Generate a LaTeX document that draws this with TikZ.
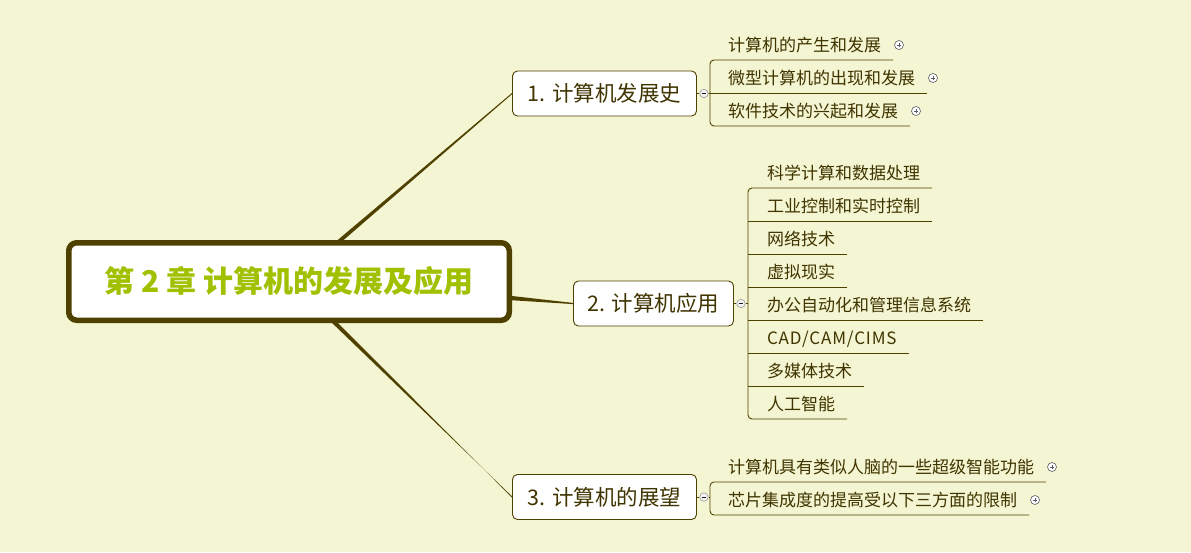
\documentclass[tikz,border=0pt]{standalone}
\usepackage{fontspec}
\newfontfamily\cjk{Noto Sans CJK SC}
\usetikzlibrary{calc,backgrounds}
\definecolor{bg}{RGB}{244,245,210}
\definecolor{olive}{RGB}{78,65,0}
\definecolor{txt}{RGB}{64,52,0}
\definecolor{cgreen}{RGB}{160,192,0}
\definecolor{mk}{RGB}{90,90,100}
\begin{document}
\begin{tikzpicture}[x=1pt,y=-1pt,
  central/.style={draw=olive, line width=5.5pt, rounded corners=8pt, fill=white,
    minimum width=440.5pt, minimum height=77.5pt, inner sep=0pt,
    font=\cjk\bfseries\fontsize{30}{36}\selectfont, text=cgreen},
  branch/.style={draw=olive, line width=0.9pt, rounded corners=5pt, fill=white,
    minimum height=45pt, inner sep=0pt, text height=18.5pt, text depth=2.5pt,
    font=\cjk\fontsize{21.5}{25}\selectfont, text=txt},
  leaf/.style={anchor=west, inner sep=0pt, outer sep=0pt, minimum height=30pt,
    text height=15pt, text depth=2pt, font=\cjk\fontsize{17}{20}\selectfont, text=txt},
  uline/.style={draw=olive, line width=0.9pt},
  minus/.style={circle, draw=gray!80, fill=white!90!gray, line width=0.6pt, minimum size=8.5pt, inner sep=0pt,
    path picture={\draw[gray!20!black, line width=0.6pt] ([xshift=-2.3pt]path picture bounding box.center) -- ([xshift=2.3pt]path picture bounding box.center);}},
  plus/.style={circle, draw=mk, fill=white, line width=0.6pt, minimum size=9pt, inner sep=0pt,
    path picture={\draw[mk, line width=0.7pt] ([xshift=-2.4pt]path picture bounding box.center) -- ([xshift=2.4pt]path picture bounding box.center)
      ([yshift=-2.4pt]path picture bounding box.center) -- ([yshift=2.4pt]path picture bounding box.center);}},
]
\useasboundingbox (0,0) rectangle (1191,552);
\begin{scope}[on background layer]
  \fill[bg] (0,0) rectangle (1191,552);
\end{scope}

% central
\node[central] (c) at (289,281.5) {第 2 章 计算机的发展及应用};

% branches
\node[branch, minimum width=184pt] (b1) at (604.5,93.5) {1. 计算机发展史};
\node[branch, minimum width=160pt] (b2) at (653.5,303.5) {2. 计算机应用};
\node[branch, minimum width=184pt] (b3) at (604.5,497) {3. 计算机的展望};

% collapse markers
\node[minus] (m1) at ($(b1.east)+(7,0)$) {};
\node[minus] (m2) at ($(b2.east)+(7,0)$) {};
\node[minus] (m3) at ($(b3.east)+(7,0)$) {};
\draw[uline, line width=0.6pt] (b1.east) -- (m1.west);
\draw[uline, line width=0.6pt] (b2.east) -- (m2.west);
\draw[uline, line width=0.6pt] (b3.east) -- (m3.west);

% leaves of branch 1
\node[leaf] (l11) at (710,45) {\hspace*{18pt}计算机的产生和发展\hspace*{12pt}};
\node[leaf] (l12) at (710,78) {\hspace*{18pt}微型计算机的出现和发展\hspace*{12pt}};
\node[leaf] (l13) at (710,111) {\hspace*{18pt}软件技术的兴起和发展\hspace*{12pt}};
\draw[uline, rounded corners=4pt] (l11.south east) -- (l11.south west) -- (l13.south west) -- (l13.south east);
\draw[uline] (l12.south west) -- (l12.south east);
\draw[uline] (m1.east) -- (l12.south west);
\node[plus] (p11) at ($(l11.east)+(6,0)$) {};
\node[plus] (p12) at ($(l12.east)+(6,0)$) {};
\node[plus] (p13) at ($(l13.east)+(6,0)$) {};

% leaves of branch 2
\node[leaf] (l21) at (748,173) {\hspace*{19pt}科学计算和数据处理\hspace*{12pt}};
\node[leaf] (l22) at (748,206) {\hspace*{19pt}工业控制和实时控制\hspace*{12pt}};
\node[leaf] (l23) at (748,239) {\hspace*{19pt}网络技术\hspace*{12pt}};
\node[leaf] (l24) at (748,272) {\hspace*{19pt}虚拟现实\hspace*{12pt}};
\node[leaf] (l25) at (748,305) {\hspace*{19pt}办公自动化和管理信息系统\hspace*{12pt}};
\node[leaf] (l26) at (748,338) {\hspace*{19pt}{\addfontfeature{LetterSpace=5}CAD/CAM/CIMS}\hspace*{12pt}};
\node[leaf] (l27) at (748,371) {\hspace*{19pt}多媒体技术\hspace*{12pt}};
\node[leaf] (l28) at (748,404) {\hspace*{19pt}人工智能\hspace*{12pt}};
\draw[uline, rounded corners=4pt] (l21.south east) -- (l21.south west) -- (l28.south west) -- (l28.south east);
\foreach \n in {l22,l23,l24,l25,l26,l27}
  \draw[uline] (\n.south west) -- (\n.south east);
\draw[uline] (m2.east) -- (l25.south west |- m2.east);

% leaves of branch 3
\node[leaf] (l31) at (710,467) {\hspace*{18pt}计算机具有类似人脑的一些超级智能功能\hspace*{12pt}};
\node[leaf] (l32) at (710,500) {\hspace*{18pt}芯片集成度的提高受以下三方面的限制\hspace*{12pt}};
\draw[uline, rounded corners=4pt] (l31.south east) -- (l31.south west) -- (l32.south west) -- (l32.south east);
\draw[uline] (m3.east) -- (l31.south west |- m3.east);
\node[plus] (p31) at ($(l31.east)+(6,0)$) {};
\node[plus] (p32) at ($(l32.east)+(6,0)$) {};

% tapered main connectors
\coordinate (c1) at (336,244);
\coordinate (c2) at (505,297.5);
\coordinate (c3) at (332,320);
\begin{scope}[on background layer]
  \fill[olive] ($(c1)+(-3,0)$) -- ($(b1.west)+(0,-0.6)$) -- ($(b1.west)+(0,0.6)$) -- ($(c1)+(3,0)$) -- cycle;
  \fill[olive] ($(c2)+(0,-2.3)$) -- ($(b2.west)+(0,-0.6)$) -- ($(b2.west)+(0,0.6)$) -- ($(c2)+(0,2.3)$) -- cycle;
  \fill[olive] ($(c3)+(-3,0)$) -- ($(b3.west)+(0,-0.6)$) -- ($(b3.west)+(0,0.6)$) -- ($(c3)+(3,0)$) -- cycle;
\end{scope}
\end{tikzpicture}
\end{document}
